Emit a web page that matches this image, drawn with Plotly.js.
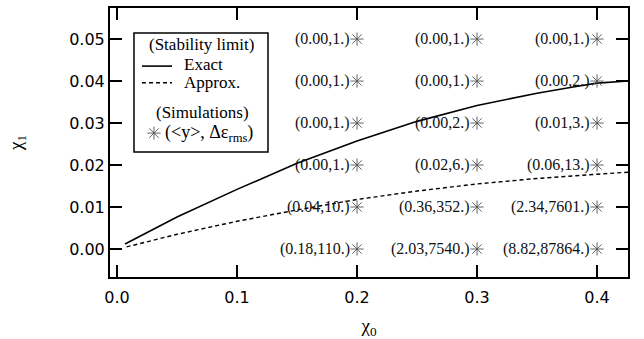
<!DOCTYPE html>
<html>
<head>
<meta charset="utf-8">
<script src="https://cdn.plot.ly/plotly-3.0.1.min.js"></script>
<style>html,body{margin:0;padding:0;background:#fff;}#chart{width:644px;height:339px;}</style>
</head>
<body>
<div id="chart"></div>
<script>
// Stability limit curves
const exactX = [0.0067, 0.05, 0.1, 0.15, 0.2, 0.25, 0.3, 0.35, 0.38, 0.4, 0.426];
const exactY = [0.0012, 0.0076, 0.0142, 0.0204, 0.0257, 0.0304, 0.0342, 0.0371, 0.0386, 0.0395, 0.0400];
const approxX = [0.008, 0.05, 0.1, 0.15, 0.2, 0.25, 0.3, 0.35, 0.4, 0.426];
const approxY = [0.0005, 0.0035, 0.0066, 0.0093, 0.0118, 0.0138, 0.0155, 0.0168, 0.0178, 0.0183];

// Simulation grid
const simX0 = [0.2, 0.3, 0.4];
const simX1 = [0.00, 0.01, 0.02, 0.03, 0.04, 0.05];
// labels[row for x1][col for x0]
const simLabels = [
  ["(0.18,110.)", "(2.03,7540.)", "(8.82,87864.)"],
  ["(0.04,10.)", "(0.36,352.)", "(2.34,7601.)"],
  ["(0.00,1.)", "(0.02,6.)", "(0.06,13.)"],
  ["(0.00,1.)", "(0.00,2.)", "(0.01,3.)"],
  ["(0.00,1.)", "(0.00,1.)", "(0.00,2.)"],
  ["(0.00,1.)", "(0.00,1.)", "(0.00,1.)"]
];

const xTicks = [0.0, 0.1, 0.2, 0.3, 0.4];
const xTickText = ["0.0", "0.1", "0.2", "0.3", "0.4"];
const yTicks = [0.00, 0.01, 0.02, 0.03, 0.04, 0.05];
const yTickText = ["0.00", "0.01", "0.02", "0.03", "0.04", "0.05"];

const simPx = [], simPy = [];
const annotations = [];
const serif = "Liberation Serif, Times New Roman, serif";
simX1.forEach((y, i) => {
  simX0.forEach((x, j) => {
    simPx.push(x); simPy.push(y);
    annotations.push({
      x: x, y: y, xref: 'x', yref: 'y', text: simLabels[i][j],
      showarrow: false, xanchor: 'right', yanchor: 'middle', xshift: -5,
      font: {family: serif, size: 16, color: '#111'}
    });
  });
});

// legend contents (paper coords)
const lf = {family: serif, size: 17, color: '#000'};
annotations.push({xref:'paper', yref:'paper', x:0.176, y:0.864, text:'(Stability limit)', showarrow:false, xanchor:'center', yanchor:'middle', font:lf});
annotations.push({xref:'paper', yref:'paper', x:0.139, y:0.789, text:'Exact', showarrow:false, xanchor:'left', yanchor:'middle', font:lf});
annotations.push({xref:'paper', yref:'paper', x:0.139, y:0.722, text:'Approx.', showarrow:false, xanchor:'left', yanchor:'middle', font:lf});
annotations.push({xref:'paper', yref:'paper', x:0.178, y:0.610, text:'(Simulations)', showarrow:false, xanchor:'center', yanchor:'middle', font:lf});
annotations.push({xref:'paper', yref:'paper', x:0.103, y:0.535, text:'(&lt;y&gt;, Δε<sub>rms</sub>)', showarrow:false, xanchor:'left', yanchor:'middle', font:{family: serif, size: 18, color: '#000'}});

const mk = {symbol: 'asterisk-open', size: 11, color: '#555', line: {color: '#555', width: 0.9}};
const traces = [
  {x: exactX, y: exactY, mode: 'lines', line: {color: '#000', width: 1.6}, hoverinfo: 'skip'},
  {x: approxX, y: approxY, mode: 'lines', line: {color: '#000', width: 1.4, dash: '4px,3px'}, hoverinfo: 'skip'},
  {x: simPx, y: simPy, mode: 'markers', marker: mk, hoverinfo: 'skip'},
  {x: [0.0849], y: [0.535], xaxis: 'x2', yaxis: 'y2', mode: 'markers', marker: mk, hoverinfo: 'skip'}
];

const sans = "DejaVu Sans, Arial, sans-serif";
const layout = {
  width: 644, height: 339,
  margin: {l: 110, r: 16, t: 8, b: 62},
  paper_bgcolor: '#fff', plot_bgcolor: '#fff',
  showlegend: false,
  xaxis: {
    range: [-0.00583, 0.4258], tickvals: xTicks, ticktext: xTickText,
    ticks: 'inside', ticklen: 12, tickwidth: 2, tickcolor: '#000',
    showline: true, linecolor: '#000', linewidth: 2, mirror: 'allticks',
    showgrid: false, zeroline: false,
    tickfont: {family: sans, size: 16, color: '#000'},
    ticklabelstandoff: 5,
    title: {text: 'χ<sub>0</sub>', font: {family: serif, size: 19, color: '#000'}, standoff: 16}
  },
  yaxis: {
    range: [-0.00667, 0.0574], tickvals: yTicks, ticktext: yTickText,
    ticks: 'inside', ticklen: 12, tickwidth: 2, tickcolor: '#000',
    showline: true, linecolor: '#000', linewidth: 2, mirror: 'allticks',
    showgrid: false, zeroline: false,
    tickfont: {family: sans, size: 16, color: '#000'},
    title: {text: 'χ<sub>1</sub>', font: {family: serif, size: 19, color: '#000'}, standoff: 42}
  },
  xaxis2: {overlaying: 'x', range: [0, 1], visible: false, fixedrange: true},
  yaxis2: {overlaying: 'y', range: [0, 1], visible: false, fixedrange: true},
  shapes: [
    {type: 'rect', xref: 'paper', yref: 'paper', x0: 0.0463, x1: 0.305, y0: 0.4647, y1: 0.907, line: {color: '#000', width: 1.5}, layer: 'below'},
    {type: 'line', xref: 'paper', yref: 'paper', x0: 0.0618, x1: 0.1197, y0: 0.784, y1: 0.784, line: {color: '#000', width: 1.6}},
    {type: 'line', xref: 'paper', yref: 'paper', x0: 0.0618, x1: 0.1197, y0: 0.722, y1: 0.722, line: {color: '#000', width: 1.4, dash: '4px,3px'}}
  ],
  annotations: annotations
};

Plotly.newPlot('chart', traces, layout, {staticPlot: true, displayModeBar: false});
</script>
</body>
</html>
